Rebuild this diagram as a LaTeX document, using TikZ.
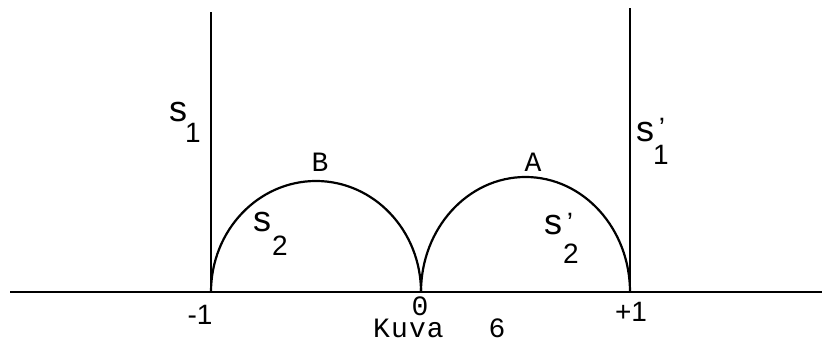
\documentclass[tikz,border=0pt]{standalone}
\usepackage{fontspec}
\setsansfont{Liberation Sans}
\setmonofont{Liberation Mono}
\usetikzlibrary{positioning}

\begin{document}
\begin{tikzpicture}[
    x=1pt, y=1pt,
    curve/.style={line width=2.2pt, black},
    axisline/.style={line width=2pt, black},
    lbl/.style={font=\fontsize{36}{36}\selectfont\sffamily, inner sep=0pt,
                text height=14pt, text depth=0pt, anchor=base},
    idx/.style={font=\fontsize{28}{28}\selectfont\sffamily, inner sep=0pt,
                text height=20pt, text depth=0pt, anchor=north},
    primemark/.style={idx, text depth=-13pt},
    tick/.style={font=\fontsize{28}{28}\selectfont\sffamily, inner sep=0pt, anchor=base},
    tw/.style={font=\fontsize{28}{28}\selectfont\ttfamily, inner sep=0pt,
               text height=17pt, text depth=0pt, anchor=base},
]
\useasboundingbox (0,0) rectangle (831,353);

% ===== axis and walls =====
\coordinate (axL) at (10,61);
\coordinate (axR) at (822,61);
\coordinate (m1) at (211,61);
\coordinate (o) at (421,61);
\coordinate (p1) at (630,61);
\coordinate (m1top) at (211,341);
\coordinate (p1top) at (630,345);

\draw[axisline] (axL) -- (axR);
\draw[curve] (m1) -- (m1top);
\draw[curve] (p1) -- (p1top);

% ===== half circles =====
\draw[curve] (m1) arc[start angle=180, end angle=0, x radius=105, y radius=111];
\draw[curve] (o) arc[start angle=180, end angle=0, x radius=104.5, y radius=115];

% ===== labels =====
\node[lbl] (s1) at (178,231) {s};
\node[idx] (s1i) at (193,231) {1};
\node[lbl] (s2) at (262,121) {s};
\node[idx] (s2i) at (280,118) {2};
\node[lbl] (t1) at (645,211) {s};
\node[primemark] (t1p) at (662,236) {'};
\node[idx] (t1i) at (661,209) {1};
\node[lbl] (t2) at (553,118) {s};
\node[primemark] (t2p) at (570,141) {'};
\node[idx] (t2i) at (571,110) {2};
\node[tw] (B) at (320,181) {B};
\node[tw] (A) at (533,181) {A};

% ===== ticks =====
\node[tick] (lm1) at (200,28) {-1};
\node[tw] (l0) at (420,37) {0};
\node[tick] (lp1) at (631,31) {+1};
\node[tw, anchor=base west] (cap) at (373,15) {\addfontfeature{LetterSpace=4}Kuva};
\node[tw] (num) at (497,15) {6};

\end{tikzpicture}
\end{document}
